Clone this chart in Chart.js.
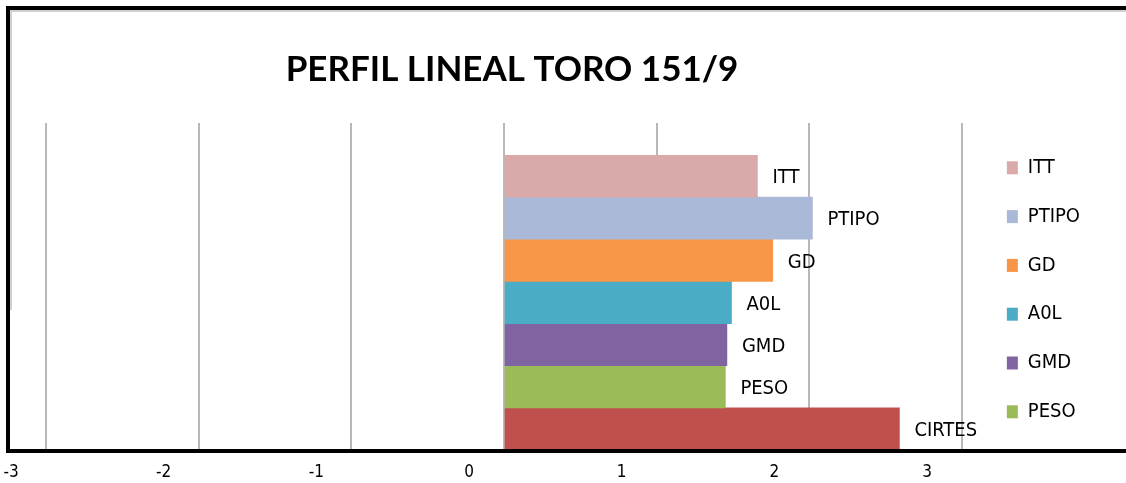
<!DOCTYPE html>
<html>
<head>
<meta charset="utf-8">
<script src="https://cdn.jsdelivr.net/npm/chart.js@4.4.1/dist/chart.umd.min.js"></script>
<style>
  html, body { margin: 0; padding: 0; background: #fff; overflow: hidden; }
  #wrap { position: relative; width: 1126px; height: 483px; }
  #frame { position: absolute; left: 6px; top: 6px; width: 1140px; height: 447px; box-sizing: border-box;
           border-top: 4px solid #000; border-left: 4px solid #000; border-bottom: 4px solid #000; pointer-events: none; }
  #inner { position: absolute; left: 10px; top: 10px; width: 1130px; height: 300px; box-sizing: border-box;
           border-top: 2px solid #d0d0d0; border-left: 2px solid #d0d0d0; pointer-events: none; }
</style>
</head>
<body>
<div id="wrap">
  <canvas id="c" width="1126" height="483"></canvas>
  <div id="inner"></div>
  <div id="frame"></div>
</div>
<script>
const titleText = 'PERFIL LINEAL TORO 151/9';
const seriesNames = ['ITT', 'PTIPO', 'GD', 'A0L', 'GMD', 'PESO', 'CIRTES'];
const seriesValues = [1.66, 2.02, 1.76, 1.49, 1.46, 1.45, 2.59];
const seriesColors = ['#DAA9A9', '#AAB9D7', '#F79646', '#4BACC6', '#8064A2', '#9BBB59', '#C0504D'];
const legendNames = ['ITT', 'PTIPO', 'GD', 'A0L', 'GMD', 'PESO'];
const xTickLabels = ['-3', '-2', '-1', '0', '1', '2', '3'];
const categories = [''];

const FAM = '"DejaVu Sans Condensed", "DejaVu Sans", sans-serif';
const TITLE_FAM = 'Lato, "DejaVu Sans Condensed", sans-serif';

const barLabels = {
  id: 'barLabels',
  afterDatasetsDraw(chart) {
    const ctx = chart.ctx;
    ctx.save();
    ctx.font = '20px ' + FAM;
    ctx.fillStyle = '#000';
    ctx.textAlign = 'left';
    ctx.textBaseline = 'middle';
    chart.data.datasets.forEach((ds, i) => {
      chart.getDatasetMeta(i).data.forEach(bar => {
        ctx.fillText(ds.label, bar.x + 15, bar.y + 2);
      });
    });
    ctx.restore();
  }
};

const datasets = seriesNames.map((name, i) => ({
  label: name,
  data: [seriesValues[i]],
  backgroundColor: seriesColors[i],
  borderWidth: 0,
  barPercentage: 1,
  categoryPercentage: 1
}));

const chart = new Chart(document.getElementById('c'), {
  type: 'bar',
  data: { labels: categories, datasets },
  plugins: [barLabels],
  options: {
    indexAxis: 'y',
    responsive: false,
    animation: false,
    devicePixelRatio: 1,
    layout: { padding: { left: 46, right: 36, top: 0, bottom: 0 } },
    scales: {
      y: { type: 'category', display: false, offset: true, grid: { display: false } },
      x: {
        type: 'linear', position: 'bottom', min: -3, max: 3.105,
        afterFit(scale) { scale.height = 33; },
        border: { display: false },
        grid: { color: '#b8b8b8', lineWidth: 2, drawTicks: false },
        ticks: {
          stepSize: 1, includeBounds: false, labelOffset: -35, padding: 12,
          color: '#000', font: { family: FAM, size: 17 },
          callback: (v, i) => xTickLabels[i]
        }
      },
      x2: {
        type: 'linear', position: 'top', min: -3, max: 3.105,
        border: { display: false },
        grid: { color: '#b8b8b8', lineWidth: 2, drawOnChartArea: false, drawTicks: true, tickLength: 32 },
        ticks: { stepSize: 1, includeBounds: false, display: false }
      }
    },
    plugins: {
      tooltip: { enabled: false },
      title: {
        display: true, text: titleText, color: '#000', fullSize: false,
        font: { family: TITLE_FAM, size: 35, weight: 'bold' },
        padding: { top: 49, bottom: 32 }
      },
      legend: {
        position: 'right', align: 'start',
        title: { display: true, text: '', font: { size: 12 }, padding: { top: 114.6, bottom: 0 } },
        labels: {
          boxWidth: 11, boxHeight: 13, padding: 28.8, color: '#000',
          font: { family: FAM, size: 20 },
          filter: item => legendNames.includes(item.text)
        }
      }
    }
  }
});
</script>
</body>
</html>
